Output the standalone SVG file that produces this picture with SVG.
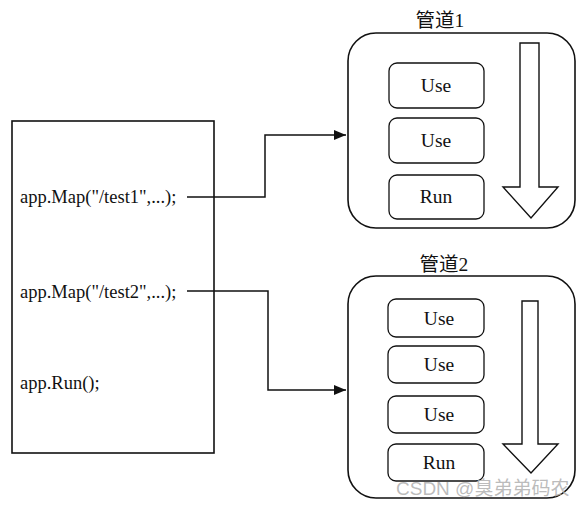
<svg xmlns="http://www.w3.org/2000/svg" width="586" height="507" viewBox="0 0 586 507">
<defs>
<style>
.t{font-family:"Liberation Serif","Noto Sans CJK SC",serif;fill:#111}
.code{font-size:18.5px}
.lbl{font-size:19.5px;text-anchor:middle}
.ttl{font-size:19.5px;text-anchor:middle}
.box{fill:#fff;stroke:#111;stroke-width:1.6}
.ibox{fill:#fff;stroke:#111;stroke-width:1.3}
.conn{fill:none;stroke:#111;stroke-width:1.5}
.flow{fill:#fff;stroke:#111;stroke-width:1.4;stroke-linejoin:miter}
.wm{font-family:"Liberation Sans","Noto Sans CJK SC",sans-serif;font-size:19px;fill:#b0b0b0;fill-opacity:0.85}
</style>
<marker id="ah" markerWidth="12" markerHeight="10" refX="12" refY="5" orient="auto" markerUnits="userSpaceOnUse">
<path d="M0,0 L12,5 L0,10 Z" fill="#111"/>
</marker>
</defs>
<rect width="586" height="507" fill="#fff"/>
<g id="app">
<rect class="box" x="12" y="121" width="202" height="332"/>
<text class="t code" x="20" y="203">app.Map("/test1",...);</text>
<text class="t code" x="20" y="298">app.Map("/test2",...);</text>
<text class="t code" x="20" y="389">app.Run();</text>
</g>
<g id="pipeline1">
<text class="t ttl" x="440" y="27">管道1</text>
<rect class="box" x="348" y="33" width="227" height="195" rx="28"/>
<g id="p1-use1"><rect class="ibox" x="389" y="63" width="95" height="45" rx="8"/><text class="t lbl" x="436" y="92">Use</text></g>
<g id="p1-use2"><rect class="ibox" x="389" y="118" width="95" height="45" rx="8"/><text class="t lbl" x="436" y="147">Use</text></g>
<g id="p1-run"><rect class="ibox" x="389" y="175" width="95" height="44" rx="8"/><text class="t lbl" x="436" y="203">Run</text></g>
<path class="flow" d="M520,43 L539,43 L539,187 L558,187 L531,218 L503,187 L520,187 Z"/>
</g>
<g id="pipeline2">
<text class="t ttl" x="444" y="271">管道2</text>
<rect class="box" x="348" y="276" width="227" height="222" rx="28"/>
<g id="p2-use1"><rect class="ibox" x="388" y="299" width="96" height="38" rx="8"/><text class="t lbl" x="439" y="325">Use</text></g>
<g id="p2-use2"><rect class="ibox" x="388" y="346" width="96" height="37" rx="8"/><text class="t lbl" x="439" y="371">Use</text></g>
<g id="p2-use3"><rect class="ibox" x="388" y="396" width="96" height="37" rx="8"/><text class="t lbl" x="439" y="421">Use</text></g>
<g id="p2-run"><rect class="ibox" x="388" y="444" width="96" height="37" rx="8"/><text class="t lbl" x="439" y="469">Run</text></g>
<path class="flow" d="M522,301 L538,301 L538,444 L558,444 L531,473 L503,444 L522,444 Z"/>
</g>
<g id="connectors">
<path class="conn" d="M187,197 L265,197 L265,135 L346,135" marker-end="url(#ah)"/>
<path class="conn" d="M187,291 L268,291 L268,390 L346,390" marker-end="url(#ah)"/>
</g>
<text class="wm" x="396" y="495">CSDN @臭弟弟码农</text>
</svg>
